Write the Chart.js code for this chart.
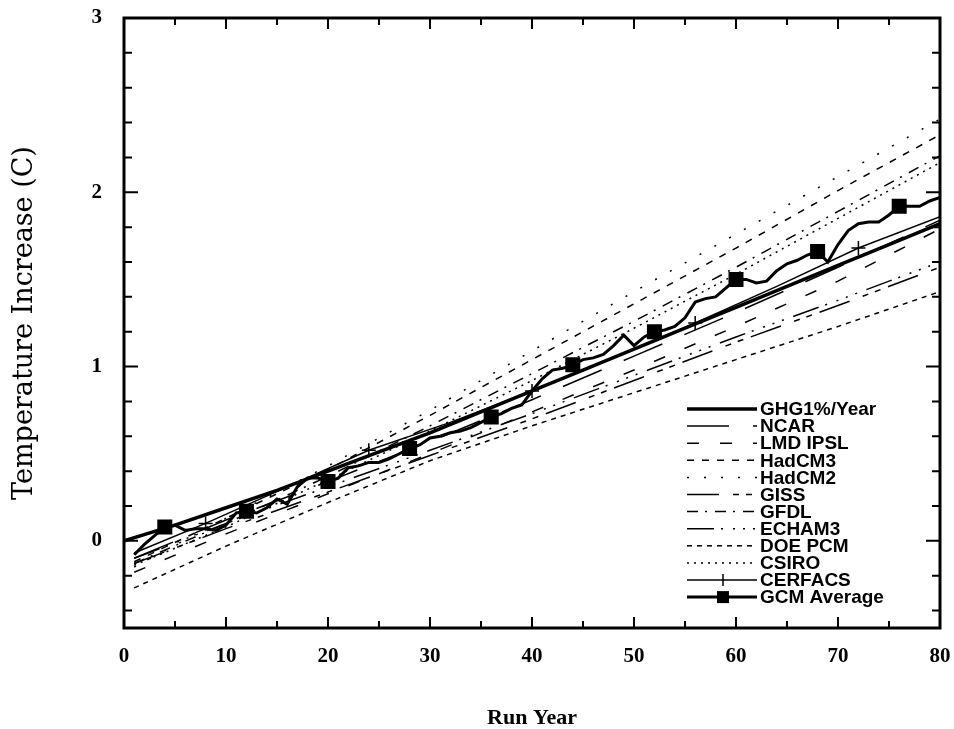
<!DOCTYPE html>
<html>
<head>
<meta charset="utf-8">
<script src="https://cdn.jsdelivr.net/npm/chart.js@4.4.0/dist/chart.umd.min.js"></script>
<style>
  html, body { margin: 0; padding: 0; background: #fff; }
  #wrap { width: 954px; height: 729px; }
</style>
</head>
<body>
<div id="wrap"><canvas id="chart" width="954" height="729"></canvas></div>
<script>
// values (run year -> temperature increase, C)
const ghgYears = [0, 5, 10, 15, 20, 25, 30, 35, 40, 45, 50, 55, 60, 65, 70, 75, 80]
const ghg = [0, 0.09, 0.19, 0.29, 0.40, 0.51, 0.62, 0.74, 0.86, 0.98, 1.10, 1.22, 1.34, 1.46, 1.58, 1.70, 1.82]

const modelYears = [1, 10, 20, 30, 40, 50, 60, 70, 80]
const ncar = [-0.10, 0.12, 0.34, 0.57, 0.81, 1.06, 1.31, 1.57, 1.84]
const lmdIpsl = [-0.18, 0.04, 0.27, 0.50, 0.74, 0.98, 1.23, 1.49, 1.79]
const hadCM3 = [-0.12, 0.13, 0.41, 0.72, 1.04, 1.36, 1.68, 2.01, 2.33]
const hadCM2 = [-0.15, 0.13, 0.43, 0.75, 1.09, 1.43, 1.76, 2.09, 2.42]
const giss = [-0.13, 0.07, 0.28, 0.49, 0.70, 0.92, 1.14, 1.35, 1.57]
const gfdl = [-0.13, 0.10, 0.37, 0.66, 0.96, 1.26, 1.57, 1.89, 2.21]
const echam3 = [-0.10, 0.10, 0.31, 0.52, 0.73, 0.95, 1.17, 1.38, 1.60]
const doePcm = [-0.27, -0.03, 0.22, 0.46, 0.66, 0.85, 1.04, 1.23, 1.43]
const csiro = [-0.14, 0.08, 0.35, 0.63, 0.92, 1.22, 1.53, 1.85, 2.17]

const cerfacsYears = [1, 8, 16, 24, 32, 40, 48, 56, 64, 72, 80]
const cerfacs = [-0.07, 0.10, 0.31, 0.52, 0.68, 0.86, 1.05, 1.25, 1.46, 1.68, 1.86]
const cerfacsMarks = [8, 24, 40, 56, 72]

const gcmYears = [1, 2, 3, 4, 5, 6, 7, 8, 9, 10, 11, 12, 13, 14, 15, 16, 17, 18, 19, 20,
  21, 22, 23, 24, 25, 26, 27, 28, 29, 30, 31, 32, 33, 34, 35, 36, 37, 38, 39, 40,
  41, 42, 43, 44, 45, 46, 47, 48, 49, 50, 51, 52, 53, 54, 55, 56, 57, 58, 59, 60,
  61, 62, 63, 64, 65, 66, 67, 68, 69, 70, 71, 72, 73, 74, 75, 76, 77, 78, 79, 80]
const gcmAverage = [-0.08, -0.02, 0.03, 0.08, 0.09, 0.06, 0.07, 0.07, 0.06, 0.09,
  0.16, 0.17, 0.16, 0.19, 0.24, 0.21, 0.31, 0.36, 0.36, 0.34,
  0.36, 0.42, 0.43, 0.45, 0.45, 0.47, 0.50, 0.53, 0.55, 0.59,
  0.60, 0.62, 0.63, 0.65, 0.68, 0.71, 0.73, 0.76, 0.78, 0.86,
  0.93, 0.98, 0.99, 1.01, 1.04, 1.05, 1.07, 1.12, 1.18, 1.12,
  1.17, 1.20, 1.21, 1.23, 1.28, 1.37, 1.39, 1.40, 1.45, 1.50,
  1.50, 1.48, 1.49, 1.55, 1.59, 1.61, 1.64, 1.66, 1.60, 1.70,
  1.78, 1.82, 1.83, 1.83, 1.87, 1.92, 1.92, 1.92, 1.95, 1.97]
const gcmMarks = [4, 12, 20, 28, 36, 44, 52, 60, 68, 76]

const yLabels = [0, 1, 2, 3]

function pts (xs, ys) {
  return xs.map((x, i) => ({ x, y: ys[i] }))
}

function model (label, xs, ys, dash) {
  return {
    label,
    data: pts(xs, ys),
    borderColor: '#000',
    borderWidth: 1.5,
    borderDash: dash,
    pointRadius: 0,
    fill: false
  }
}

const datasets = [
  { label: 'GHG1%/Year', data: pts(ghgYears, ghg), borderColor: '#000', borderWidth: 3.5, pointRadius: 0, fill: false },
  model('NCAR', modelYears, ncar, [42, 24]),
  model('LMD IPSL', modelYears, lmdIpsl, [12, 21]),
  model('HadCM3', modelYears, hadCM3, [7, 8]),
  model('HadCM2', modelYears, hadCM2, [2, 15]),
  model('GISS', modelYears, giss, [32, 14, 6, 7, 6, 8]),
  model('GFDL', modelYears, gfdl, [11, 7, 2, 8]),
  model('ECHAM3', modelYears, echam3, [27, 7, 2, 10, 2, 8, 2, 8, 2, 10]),
  model('DOE PCM', modelYears, doePcm, [5, 5]),
  model('CSIRO', modelYears, csiro, [2, 5]),
  {
    label: 'CERFACS',
    data: pts(cerfacsYears, cerfacs),
    borderColor: '#000',
    borderWidth: 1.5,
    pointStyle: 'cross',
    pointBorderWidth: 1.5,
    pointRadius: ctx => cerfacsMarks.includes(ctx.raw.x) ? 7 : 0,
    fill: false
  },
  {
    label: 'GCM Average',
    data: pts(gcmYears, gcmAverage),
    borderColor: '#000',
    backgroundColor: '#000',
    borderWidth: 3,
    pointStyle: 'rect',
    pointRadius: ctx => gcmMarks.includes(ctx.raw.x) ? 8.5 : 0,
    fill: false
  }
]

// axis frame with inward ticks
const frame = {
  id: 'frame',
  afterDatasetsDraw (chart) {
    const { ctx, chartArea: a, scales: { x, y } } = chart
    ctx.save()
    ctx.strokeStyle = '#000'
    ctx.lineWidth = 2
    ctx.setLineDash([])
    ctx.beginPath()
    for (let v = 5; v < 80; v += 5) {
      const px = x.getPixelForValue(v)
      const len = v % 10 === 0 ? 11 : 7
      ctx.moveTo(px, a.bottom); ctx.lineTo(px, a.bottom - len)
      ctx.moveTo(px, a.top); ctx.lineTo(px, a.top + len)
    }
    for (let k = -2; k < 15; k++) {
      const py = y.getPixelForValue(k / 5)
      const len = k % 5 === 0 ? 14 : 8
      ctx.moveTo(a.left, py); ctx.lineTo(a.left + len, py)
      ctx.moveTo(a.right, py); ctx.lineTo(a.right - len, py)
    }
    ctx.stroke()
    ctx.lineWidth = 3
    ctx.strokeRect(a.left, a.top, a.right - a.left, a.bottom - a.top)
    ctx.restore()
  }
}

// legend drawn inside the plot, using each dataset's own line style
const insideLegend = {
  id: 'insideLegend',
  afterDraw (chart) {
    const { ctx, chartArea: a } = chart
    const x0 = a.right - 253
    const x1 = x0 + 70
    let yy = a.top + 391
    ctx.save()
    ctx.font = 'bold 19px "Liberation Sans", Arial, sans-serif'
    ctx.textBaseline = 'middle'
    ctx.fillStyle = '#000'
    ctx.strokeStyle = '#000'
    for (const ds of chart.data.datasets) {
      ctx.lineWidth = ds.borderWidth
      ctx.setLineDash(ds.borderDash || [])
      ctx.beginPath()
      ctx.moveTo(x0, yy)
      ctx.lineTo(x1, yy)
      ctx.stroke()
      ctx.setLineDash([])
      const mx = x0 + 36
      if (ds.pointStyle === 'rect') {
        ctx.fillRect(mx - 6, yy - 6, 12, 12)
      } else if (ds.pointStyle === 'cross') {
        ctx.lineWidth = 1.5
        ctx.beginPath()
        ctx.moveTo(mx, yy - 6); ctx.lineTo(mx, yy + 6)
        ctx.stroke()
      }
      ctx.fillText(ds.label, x1 + 3, yy + 1)
      yy += 17.1
    }
    ctx.restore()
  }
}

// invisible tick marks push the labels out without adding scale padding
const hiddenTicks = { display: true, drawOnChartArea: false, drawTicks: true, tickColor: 'rgba(0,0,0,0)' }

new Chart(document.getElementById('chart').getContext('2d'), {
  type: 'line',
  data: { datasets },
  plugins: [frame, insideLegend],
  options: {
    responsive: false,
    animation: false,
    layout: { padding: { top: 18, right: 14, left: 0, bottom: 0 } },
    plugins: { legend: { display: false }, tooltip: { enabled: false } },
    elements: { line: { tension: 0 } },
    scales: {
      x: {
        type: 'linear',
        min: 0,
        max: 80,
        grid: { ...hiddenTicks, tickLength: 14 },
        border: { display: false },
        ticks: {
          stepSize: 10,
          padding: 2,
          color: '#000',
          maxRotation: 0,
          font: { family: 'Liberation Serif', weight: 'bold', size: 21 }
        },
        title: {
          display: true,
          text: 'Run Year',
          color: '#000',
          padding: { top: 0, bottom: 0 },
          font: { family: 'Liberation Serif', weight: 'bold', size: 22, lineHeight: 1 }
        },
        afterFit (s) { s.height = 101 }
      },
      y: {
        type: 'linear',
        min: -0.5,
        max: 3,
        grid: { ...hiddenTicks, tickLength: 20 },
        border: { display: false },
        afterBuildTicks (s) { s.ticks = yLabels.map(v => ({ value: v })) },
        ticks: {
          padding: 2,
          color: '#000',
          font: { family: 'Liberation Serif', weight: 'bold', size: 21 }
        },
        title: {
          display: true,
          text: 'Temperature Increase (C)',
          color: '#000',
          padding: { top: 11, bottom: 0 },
          font: { family: 'DejaVu Serif', size: 27, lineHeight: 1 }
        },
        afterFit (s) { s.width = 124 }
      }
    }
  }
})
</script>
</body>
</html>
